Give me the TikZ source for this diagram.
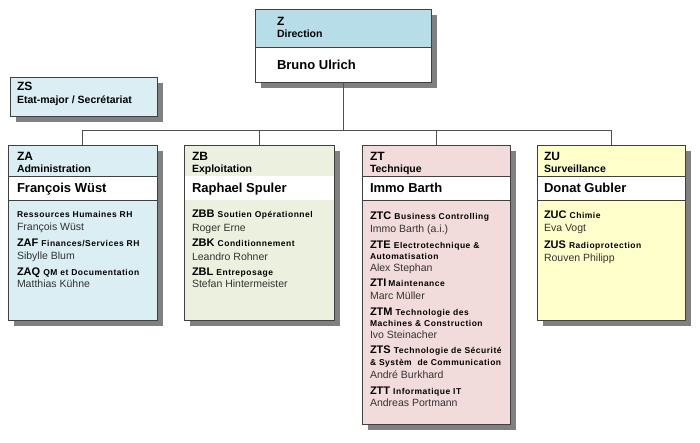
\documentclass[tikz,border=0pt]{standalone}
\usepackage{fontspec}
\setmainfont{Liberation Sans}
\newfontfamily\spc[LetterSpace=6]{Liberation Sans}
\usetikzlibrary{shadows}
\definecolor{bordc}{HTML}{404040}
\definecolor{connc}{HTML}{505050}
\definecolor{shadowc}{HTML}{808080}
\definecolor{namec}{HTML}{333333}
\definecolor{zhead}{HTML}{B7DEE8}
\definecolor{blue2}{HTML}{DBEEF4}
\definecolor{olive2}{HTML}{EBF1DE}
\definecolor{pink2}{HTML}{F2DCDB}
\definecolor{yell2}{HTML}{FFFFCC}
\newcommand\dsc[1]{{\fontsize{8.5}{10}\selectfont\spc\bfseries #1}}
\tikzset{
 box/.style={draw=bordc, line width=0.8pt, rectangle, anchor=north west, inner sep=0pt, outer sep=0pt,
   drop shadow={shadow xshift=6pt, shadow yshift=-6pt, opacity=1, fill=shadowc}},
 band/.style={fill=white, draw=bordc, line width=0.8pt},
 txt/.style={anchor=base west, inner sep=0pt, outer sep=0pt},
 hcode/.style={txt, font=\fontsize{12}{14}\selectfont\bfseries},
 hdesc/.style={txt, font=\fontsize{10.5}{12}\selectfont\bfseries},
 boss/.style={txt, font=\fontsize{13}{15}\selectfont\bfseries},
 item/.style={txt, font=\fontsize{11}{13}\selectfont\bfseries},
 pers/.style={txt, font=\fontsize{10.5}{12}\selectfont, text=namec},
 conn/.style={draw=connc, line width=0.8pt},
}
\begin{document}
\begin{tikzpicture}[x=1pt,y=-1pt]
\useasboundingbox[fill=white] (0,0) rectangle (700,442);

% boxes
\node[box, fill=zhead, minimum width=176pt, minimum height=73pt] (Z) at (255,9) {};
\filldraw[band] (255,47) rectangle (431,82);

\node[box, fill=blue2, minimum width=147pt, minimum height=39pt] (ZS) at (10,77) {};

\node[box, fill=blue2, minimum width=149pt, minimum height=175pt] (ZA) at (8,145) {};
\filldraw[band] (8,176) rectangle (157,200);

\node[box, fill=olive2, minimum width=150pt, minimum height=175pt] (ZB) at (184,145) {};
\fill[white] (184.5,176) rectangle (333.5,200);

\node[box, fill=pink2, minimum width=148pt, minimum height=279pt] (ZT) at (362,145) {};
\filldraw[band] (362,176) rectangle (510,200);

\node[box, fill=yell2, minimum width=148pt, minimum height=175pt] (ZU) at (537,145) {};
\filldraw[band] (537,176) rectangle (685,200);

% connectors
\coordinate (bus) at (343,130);
\draw[conn] (Z.south) -- (bus) -| (ZA.north);
\draw[conn] (bus) -| (ZB.north);
\draw[conn] (bus) -| (ZT.north);
\draw[conn] (bus) -| (ZU.north);

% Z
\node[hcode] (z1) at (277,25) {Z};
\node[hdesc] (z2) at (277,37.3) {Direction};
\node[boss] (z3) at (277,69.3) {Bruno Ulrich};

% ZS
\node[hcode] (zs1) at (17,90.7) {ZS};
\node[hdesc] (zs2) at (17,103.3) {Etat-major / Secrétariat};

% ZA
\node[hcode] (za1) at (17,160.7) {ZA};
\node[hdesc] (za2) at (17,172.3) {Administration};
\node[boss] (za3) at (17,192.3) {François Wüst};
\node[item] (za4) at (17,217.7) {\dsc{Ressources Humaines RH}};
\node[pers] (za5) at (17,230.7) {François Wüst};
\node[item] (za6) at (17,246.7) {ZAF \dsc{Finances/Services RH}};
\node[pers] (za7) at (17,259.3) {Sibylle Blum};
\node[item] (za8) at (17,275) {ZAQ \dsc{QM et Documentation}};
\node[pers] (za9) at (17,287.7) {Matthias Kühne};

% ZB
\node[hcode] (zb1) at (192,160.7) {ZB};
\node[hdesc] (zb2) at (192,172.3) {Exploitation};
\node[boss] (zb3) at (192,192.3) {Raphael Spuler};
\node[item] (zb4) at (192,217.7) {ZBB \dsc{Soutien Opérationnel}};
\node[pers] (zb5) at (192,231.3) {Roger Erne};
\node[item] (zb6) at (192,246.7) {ZBK \dsc{Conditionnement}};
\node[pers] (zb7) at (192,260) {Leandro Rohner};
\node[item] (zb8) at (192,275) {ZBL \dsc{Entreposage}};
\node[pers] (zb9) at (192,287.7) {Stefan Hintermeister};

% ZT
\node[hcode] (zt1) at (370,160.7) {ZT};
\node[hdesc] (zt2) at (370,172) {Technique};
\node[boss] (zt3) at (370,192) {Immo Barth};
\node[item] (zt4) at (370,219) {ZTC \dsc{Business Controlling}};
\node[pers] (zt5) at (370,232.5) {Immo Barth (a.i.)};
\node[item] (zt6) at (370,248.3) {ZTE \dsc{Electrotechnique \&}};
\node[item] (zt7) at (370,259.5) {\dsc{Automatisation}};
\node[pers] (zt8) at (370,271) {Alex Stephan};
\node[item] (zt9) at (370,286.7) {ZTI\,\dsc{Maintenance}};
\node[pers] (zt10) at (370,299.5) {Marc Müller};
\node[item] (zt11) at (370,315) {ZTM \dsc{Technologie des}};
\node[item] (zt12) at (370,326.7) {\dsc{Machines \& Construction}};
\node[pers] (zt13) at (370,338.5) {Ivo Steinacher};
\node[item] (zt14) at (370,353.3) {ZTS \dsc{Technologie de Sécurité}};
\node[item] (zt15) at (370,365.7) {\dsc{\& Systèm\ \ de Communication}};
\node[pers] (zt16) at (370,378.5) {André Burkhard};
\node[item] (zt17) at (370,394) {ZTT \dsc{Informatique IT}};
\node[pers] (zt18) at (370,406.7) {Andreas Portmann};

% ZU
\node[hcode] (zu1) at (544,160.7) {ZU};
\node[hdesc] (zu2) at (544,172) {Surveillance};
\node[boss] (zu3) at (544,192) {Donat Gubler};
\node[item] (zu4) at (544,218.3) {ZUC \dsc{Chimie}};
\node[pers] (zu5) at (544,231.7) {Eva Vogt};
\node[item] (zu6) at (544,248.5) {ZUS \dsc{Radioprotection}};
\node[pers] (zu7) at (544,261.7) {Rouven Philipp};
\end{tikzpicture}
\end{document}
